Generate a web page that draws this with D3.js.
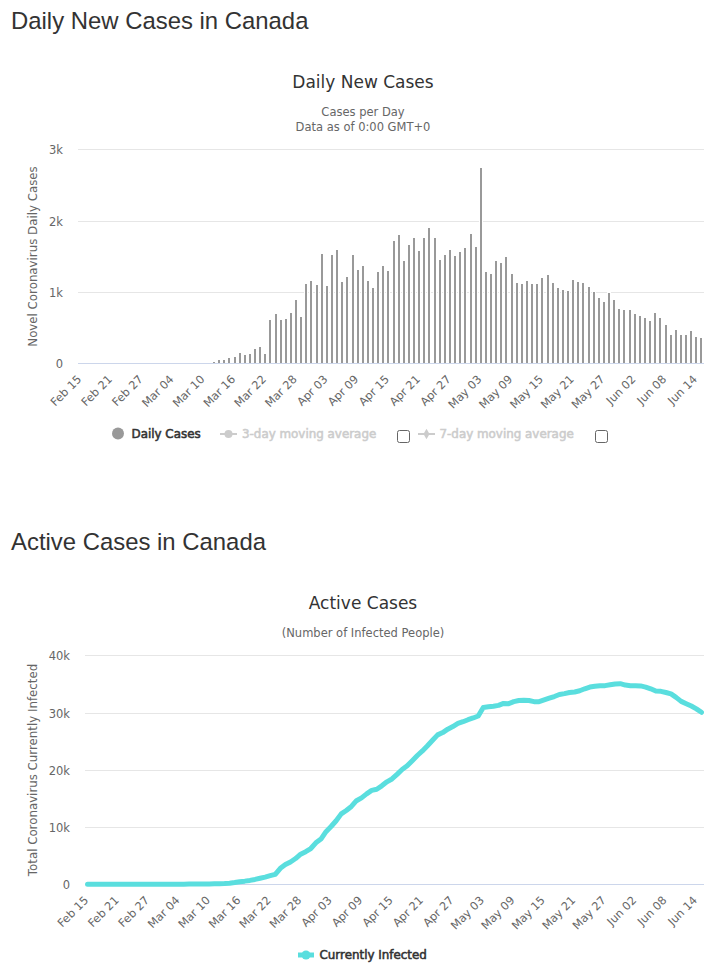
<!DOCTYPE html>
<html>
<head>
<meta charset="utf-8">
<script src="https://cdn.jsdelivr.net/npm/d3@7"></script>
<style>
	body { margin: 0; background: #fff; }
	svg { display: block; }
	text { font-family: "DejaVu Sans", sans-serif; }
	.heading { font-family: "Liberation Sans", Arial, sans-serif; font-size: 23.9px; fill: #333; }
	.title { font-size: 17px; fill: #333; text-anchor: middle; }
	.subtitle { font-size: 11.5px; fill: #666; text-anchor: middle; }
	.axisTitle { font-size: 11.8px; fill: #666; text-anchor: middle; }
</style>
</head>
<body>
<script>
const days = [
	"Feb 15","Feb 16","Feb 17","Feb 18","Feb 19","Feb 20","Feb 21","Feb 22","Feb 23","Feb 24","Feb 25","Feb 26","Feb 27","Feb 28","Feb 29",
	"Mar 01","Mar 02","Mar 03","Mar 04","Mar 05","Mar 06","Mar 07","Mar 08","Mar 09","Mar 10","Mar 11","Mar 12","Mar 13","Mar 14","Mar 15","Mar 16","Mar 17","Mar 18","Mar 19","Mar 20","Mar 21","Mar 22","Mar 23","Mar 24","Mar 25","Mar 26","Mar 27","Mar 28","Mar 29","Mar 30","Mar 31",
	"Apr 01","Apr 02","Apr 03","Apr 04","Apr 05","Apr 06","Apr 07","Apr 08","Apr 09","Apr 10","Apr 11","Apr 12","Apr 13","Apr 14","Apr 15","Apr 16","Apr 17","Apr 18","Apr 19","Apr 20","Apr 21","Apr 22","Apr 23","Apr 24","Apr 25","Apr 26","Apr 27","Apr 28","Apr 29","Apr 30",
	"May 01","May 02","May 03","May 04","May 05","May 06","May 07","May 08","May 09","May 10","May 11","May 12","May 13","May 14","May 15","May 16","May 17","May 18","May 19","May 20","May 21","May 22","May 23","May 24","May 25","May 26","May 27","May 28","May 29","May 30","May 31",
	"Jun 01","Jun 02","Jun 03","Jun 04","Jun 05","Jun 06","Jun 07","Jun 08","Jun 09","Jun 10","Jun 11","Jun 12","Jun 13","Jun 14","Jun 15"
];
const tickDays = ["Feb 15","Feb 21","Feb 27","Mar 04","Mar 10","Mar 16","Mar 22","Mar 28","Apr 03","Apr 09","Apr 15","Apr 21","Apr 27","May 03","May 09","May 15","May 21","May 27","Jun 02","Jun 08","Jun 14"];

const dailyCases = [
	0,0,0,0,0,1,0,1,0,0,1,0,1,1,3,4,3,3,4,5,8,5,4,6,7,8,
	15,47,47,75,89,145,117,131,202,230,131,610,695,610,624,709,892,653,
	1113,1156,1099,1532,1085,1517,1588,1146,1210,1517,1310,1365,1156,1056,1281,1366,1295,
	1715,1800,1435,1660,1757,1575,1757,1897,1757,1449,1519,1588,1505,1561,1617,1814,1631,2738,
	1281,1253,1435,1407,1491,1253,1127,1113,1156,1113,1113,1198,1240,1128,1057,1029,1015,
	1170,1142,1128,1071,1001,916,860,986,888,761,747,747,690,662,634,592,705,634,536,394,465,394,394,451,367,353
];
const activeCases = [
	7,7,7,7,7,8,8,8,8,9,9,10,11,12,14,16,20,24,27,30,36,40,48,58,70,85,
	100,120,170,300,450,550,680,850,1050,1250,1500,1750,2800,3450,3900,4500,5260,5700,6250,7250,7900,9200,10100,11100,12300,12900,13600,14600,15100,15800,
	16400,16600,17200,17900,18400,19200,20050,20700,21600,22500,23300,24200,25150,26100,26500,27100,27550,28100,28400,28750,29050,29400,
	30900,31000,31100,31250,31600,31550,31900,32100,32150,32100,31900,31900,32200,32500,32800,33150,33300,33500,33600,33800,34150,34450,34600,34700,34700,34850,35000,35050,
	34800,34700,34700,34650,34450,34150,33750,33700,33500,33250,32650,31950,31550,31150,30650,30050
];

const dailyTicks = [0, 1000, 2000, 3000];
const activeTicks = [0, 10000, 20000, 30000, 40000];

const svg = d3.select("body").append("svg")
	.attr("width", 719)
	.attr("height", 969);

const kFormat = d => d === 0 ? "0" : (d / 1000) + "k";

function addText(cls, x, y, str) {
	return svg.append("text").attr("class", cls).attr("x", x).attr("y", y).text(str);
}

function legendText(x, y, str, color) {
	// the original bold is a synthetic one, so thicken regular glyphs
	return svg.append("text")
		.attr("x", x).attr("y", y)
		.attr("font-size", 11.9)
		.attr("fill", color).attr("stroke", color).attr("stroke-width", 0.55)
		.text(str);
}

function drawAxes(y, left, right, labelX, ticks) {
	// grid snaps to whole pixels, data stays on the exact scale
	const snapped = y.copy().interpolate(d3.interpolateRound);
	const yAxis = svg.append("g")
		.attr("transform", `translate(${left},0)`)
		.call(d3.axisLeft(snapped).tickValues(ticks).tickFormat(kFormat).tickSize(-(right - left)).tickPadding(0));
	yAxis.select(".domain").remove();
	yAxis.selectAll("line").attr("stroke", "#e6e6e6");
	yAxis.selectAll("text")
		.attr("x", labelX - left)
		.attr("dy", "0.35em")
		.attr("fill", "#666")
		.attr("font-family", "DejaVu Sans")
		.attr("font-size", 11.5);
}

function drawXAxis(x, y0, left, right) {
	const xAxis = svg.append("g")
		.attr("transform", `translate(0,${y0})`)
		.call(d3.axisBottom(x).tickValues(tickDays).tickSize(0));
	xAxis.select(".domain").attr("stroke", "#ccd6eb").attr("d", `M${left},0.5H${right}`);
	xAxis.selectAll("text")
		.attr("font-family", "DejaVu Sans")
		.attr("font-size", 11.3)
		.attr("fill", "#666")
		.attr("text-anchor", "end")
		.attr("x", 0).attr("y", 0).attr("dy", 0)
		.attr("transform", "translate(1.5,17) rotate(-45)");
}

// ---- daily new cases
addText("heading", 11, 29, "Daily New Cases in Canada");
addText("title", 363, 88, "Daily New Cases");
addText("subtitle", 363, 116, "Cases per Day");
addText("subtitle", 363, 131, "Data as of 0:00 GMT+0");

const x1 = d3.scaleBand().domain(days).range([78, 704]);
const y1 = d3.scaleLinear().domain([0, 3000]).range([363.3, 149.3]);

drawAxes(y1, 78, 704, 63, dailyTicks);

svg.append("g").selectAll("rect")
	.data(days)
	.enter()
	.append("rect")
	.attr("x", d => Math.round(x1(d) + x1.bandwidth() / 2 - 1) - 0.5)
	.attr("y", (d, i) => Math.round(y1(dailyCases[i])) - 0.5)
	.attr("width", 3)
	.attr("height", (d, i) => Math.max(0, 363.5 - Math.round(y1(dailyCases[i])) + 0.5))
	.attr("fill", "#999")
	.attr("stroke", "#fff");

drawXAxis(x1, 363, 78, 704);

svg.append("text").attr("class", "axisTitle")
	.attr("transform", "translate(37,256.5) rotate(-90)")
	.text("Novel Coronavirus Daily Cases");

// legend row, the moving averages are switched off in the original
svg.append("circle").attr("cx", 118).attr("cy", 433.5).attr("r", 6).attr("fill", "#999");
legendText(131.5, 438, "Daily Cases", "#333");

svg.append("line").attr("x1", 220).attr("x2", 237).attr("y1", 434).attr("y2", 434).attr("stroke", "#ccc").attr("stroke-width", 2);
svg.append("circle").attr("cx", 228.5).attr("cy", 434).attr("r", 4).attr("fill", "#ccc");
legendText(242, 438, "3-day moving average", "#ccc");
svg.append("rect").attr("x", 397.5).attr("y", 430.5).attr("width", 12).attr("height", 12).attr("rx", 2).attr("fill", "#fff").attr("stroke", "#666");

svg.append("line").attr("x1", 418).attr("x2", 435).attr("y1", 434).attr("y2", 434).attr("stroke", "#ccc").attr("stroke-width", 2);
svg.append("path").attr("d", d3.symbol(d3.symbolDiamond, 32)).attr("transform", "translate(426.5,434)").attr("fill", "#ccc");
legendText(439.5, 438, "7-day moving average", "#ccc");
svg.append("rect").attr("x", 595.5).attr("y", 430.5).attr("width", 12).attr("height", 12).attr("rx", 2).attr("fill", "#fff").attr("stroke", "#666");

// ---- active cases
addText("heading", 11, 550, "Active Cases in Canada");
addText("title", 363, 609, "Active Cases");
addText("subtitle", 363, 637, "(Number of Infected People)");

const x2 = d3.scaleBand().domain(days).range([85, 704]);
const y2 = d3.scaleLinear().domain([0, 40000]).range([884.3, 655.3]);

drawAxes(y2, 85, 704, 70, activeTicks);
drawXAxis(x2, 884, 85, 704);

const activeLine = d3.line()
	.x(d => x2(d) + x2.bandwidth() / 2)
	.y((d, i) => y2(activeCases[i]));

svg.append("path")
	.attr("d", activeLine(days))
	.attr("fill", "none")
	.attr("stroke", "#5adede")
	.attr("stroke-width", 5)
	.attr("stroke-linecap", "round")
	.attr("stroke-linejoin", "round");

svg.append("text").attr("class", "axisTitle")
	.attr("transform", "translate(37,770) rotate(-90)")
	.text("Total Coronavirus Currently Infected");

svg.append("line").attr("x1", 298).attr("x2", 314).attr("y1", 955).attr("y2", 955).attr("stroke", "#5adede").attr("stroke-width", 5);
svg.append("circle").attr("cx", 306).attr("cy", 955).attr("r", 4.5).attr("fill", "#5adede");
legendText(319.5, 959, "Currently Infected", "#333");
</script>
</body>
</html>
